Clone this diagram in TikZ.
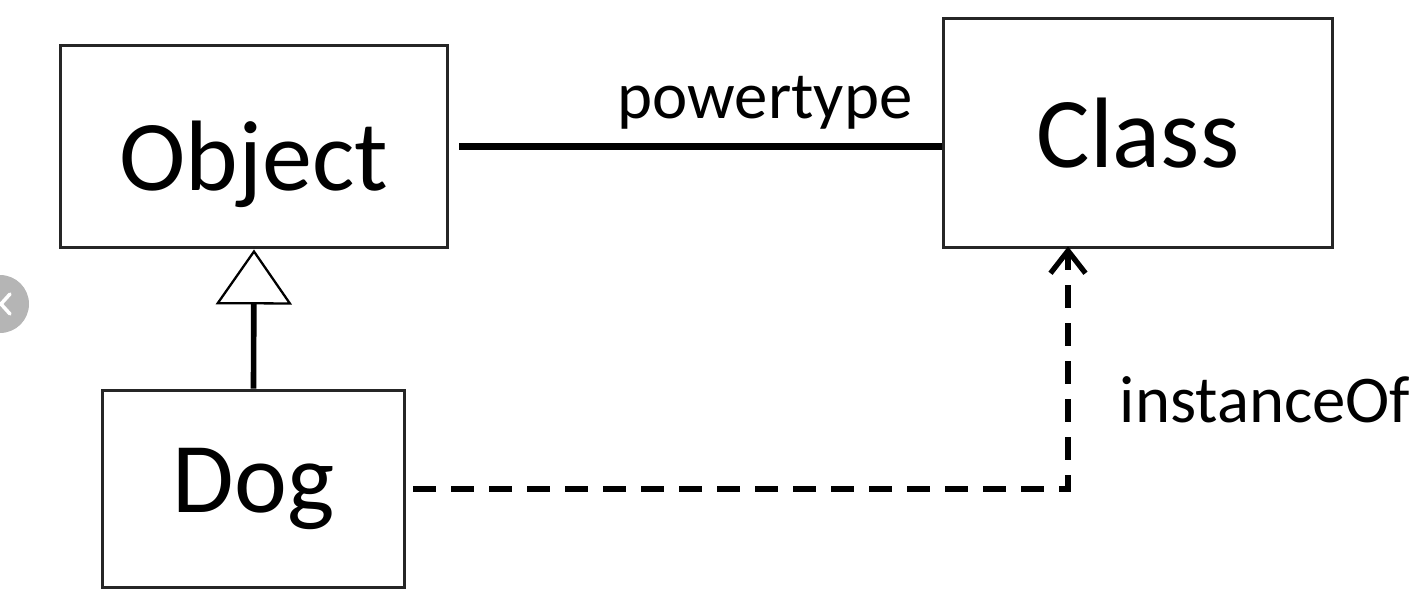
\documentclass[tikz,border=0pt]{standalone}
\usepackage{fontspec}
\setmainfont{Carlito}
\usetikzlibrary{arrows.meta, calc}

\tikzset{
  umlbox/.style={draw=black!85, line width=1.7pt, fill=white, inner sep=0pt,
    font=\fontsize{57}{60}\selectfont},
  assoc/.style={line width=4.2pt},
  gen/.style={line width=3.2pt,
    -{Triangle[open, length=1.1cm, width=1.52cm, line width=1.3pt]}},
  dep/.style={line width=3.4pt, dash pattern=on 0.46cm off 0.3cm,
    -{Straight Barb[length=0.45cm, width=0.7cm, line width=3pt]}},
  lbl/.style={font=\fontsize{38}{40}\selectfont}
}

\begin{document}
\begin{tikzpicture}[x=0.02cm, y=-0.02cm]
					\useasboundingbox (0,0) rectangle (1428,602);
					
					% boxes
					\node[umlbox, minimum width=7.76cm, minimum height=4.06cm] (object) at (254,146.5) {\raisebox{-0.36cm}[\height][\depth]{Object}};
					\node[umlbox, minimum width=7.8cm, minimum height=4.6cm] (class) at (1138,133) {Class};
					\node[umlbox, minimum width=6.06cm, minimum height=3.96cm] (dog) at (253.5,489) {Dog};
					
					% connectors
					\draw[assoc] ($ (object.east) + (10,0) $) -- (object.east -| class.west);
					\node[lbl] (powertype) at (765,103) {powertype};
					
					\draw[gen] (dog.north) -- (object.south);
					
					\coordinate (tip) at ($ (class.south) + (-70,-3) $);
					\draw[dep] ($ (dog.east) + (7,0) $) -| (tip);
					\node[lbl] (instanceof) at (1265,400) {instanceOf};
					
					% side button
					\fill[black!29] (0,304) circle (29);
					\draw[white, line width=2pt, line cap=round] (10,294) -- (1,304) -- (10,314);
				\end{tikzpicture}
\end{document}
